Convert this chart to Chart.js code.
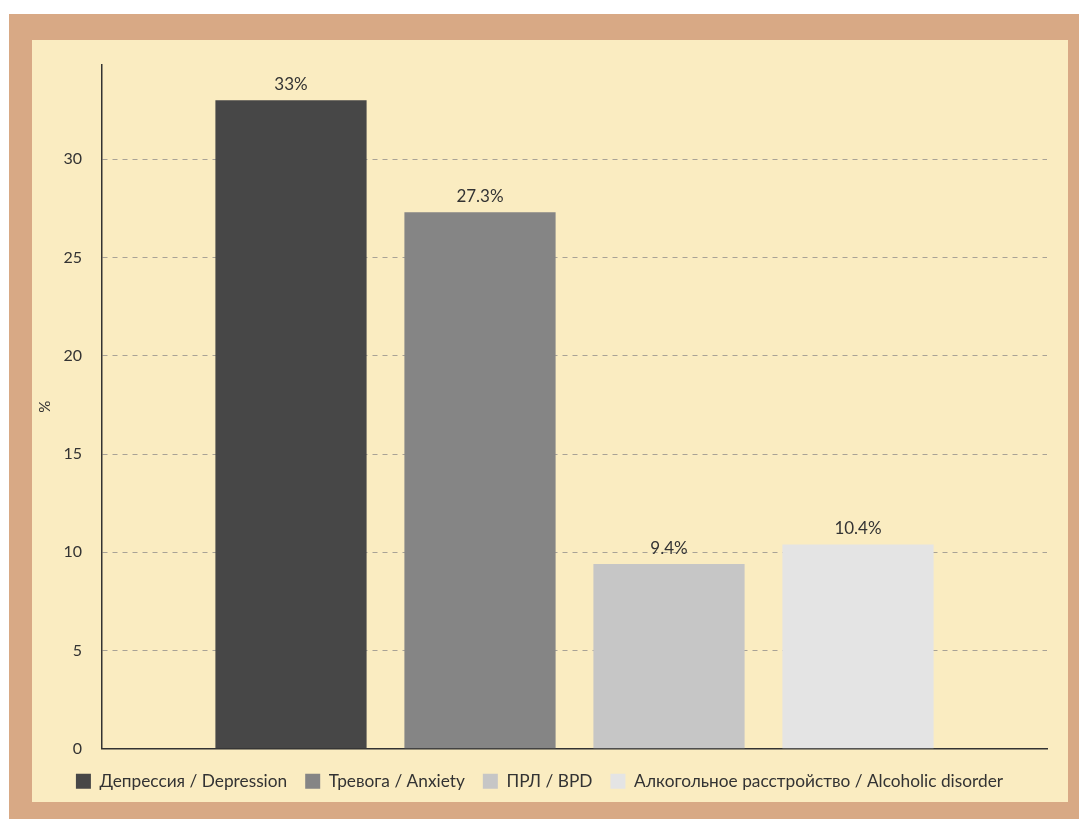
<!DOCTYPE html>
<html>
<head>
<meta charset="utf-8">
<script src="https://cdn.jsdelivr.net/npm/chart.js@4"></script>
<style>
  html, body { margin: 0; padding: 0; background: #fff; }
  #frame {
    position: absolute; left: 9px; top: 14px;
    width: 1036px; height: 762px;
    border-style: solid; border-color: #D8A985;
    border-width: 26px 11px 17px 23px;
    background: #FAECC1;
  }
  #wrap { position: relative; width: 1036px; height: 762px; }
</style>
</head>
<body>
<div id="frame"><div id="wrap"><canvas id="myChart"></canvas></div></div>
<script>
const seriesLabels = ['Депрессия / Depression', 'Тревога / Anxiety', 'ПРЛ / BPD', 'Алкогольное расстройство / Alcoholic disorder'];
const seriesValues = [33, 27.3, 9.4, 10.4];
const seriesColors = ['#474747', '#858585', '#c6c6c6', '#e4e4e4'];
const yTicks = [0, 5, 10, 15, 20, 25, 30];

Chart.defaults.font.family = 'Lato, sans-serif';
Chart.defaults.color = '#333';

// draw value labels above each bar
const valueLabels = {
    id: 'valueLabels',
    afterDatasetsDraw(chart) {
        const ctx = chart.ctx;
        ctx.save();
        ctx.font = '17px Lato, sans-serif';
        ctx.fillStyle = '#333';
        ctx.textAlign = 'center';
        ctx.textBaseline = 'bottom';
        chart.data.datasets.forEach((ds, i) => {
            const bar = chart.getDatasetMeta(i).data[0];
            ctx.fillText(ds.data[0] + '%', bar.x, bar.y - 7);
        });
        ctx.restore();
    }
};

const datasets = seriesLabels.map((name, i) => ({
    label: name,
    data: [seriesValues[i]],
    backgroundColor: seriesColors[i],
    borderWidth: 0,
    barPercentage: 0.8,
    categoryPercentage: 0.8
}));

new Chart(document.getElementById('myChart').getContext('2d'), {
    type: 'bar',
    data: { labels: [''], datasets: datasets },
    options: {
        responsive: true,
        maintainAspectRatio: false,
        animation: false,
        layout: { padding: { top: 25, right: 21, left: 0, bottom: 2 } },
        plugins: {
            tooltip: { enabled: false },
            legend: {
                position: 'bottom',
                labels: { boxWidth: 15, boxHeight: 15, padding: 18, font: { size: 17.3 }, color: '#333' }
            }
        },
        scales: {
            x: {
                grid: { display: false, drawTicks: false },
                border: { display: true, color: '#333', width: 1.5 },
                ticks: { display: false },
                afterFit: axis => { axis.height = 6; }
            },
            y: {
                min: 0,
                max: 34.8,
                afterBuildTicks: axis => { axis.ticks = yTicks.map(v => ({ value: v })); },
                afterFit: axis => { axis.width = 70; axis.paddingTop = 0; },
                title: { display: true, text: '%', font: { size: 15 }, color: '#333' },
                grid: {
                    drawTicks: false,
                    color: ctx => ctx.tick && ctx.tick.value === 0 ? 'rgba(0,0,0,0)' : '#a8a296'
                },
                border: { display: true, color: '#333', width: 1.5, dash: [5, 5], dashOffset: 0 },
                ticks: { padding: 20, font: { size: 16 }, color: '#333' }
            }
        }
    },
    plugins: [valueLabels]
});
</script>
</body>
</html>
